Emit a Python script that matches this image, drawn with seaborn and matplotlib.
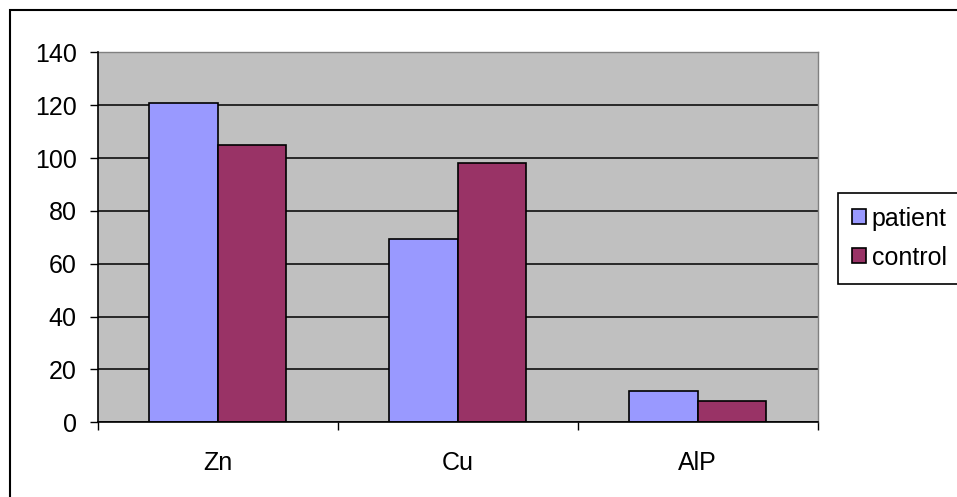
import pandas as pd
import seaborn as sns
import matplotlib.pyplot as plt
from matplotlib.patches import Rectangle

categories = ["Zn", "Cu", "AlP"]
patient = [121, 69.4, 12]
control = [105, 98.3, 8.2]
groups = ["patient", "control"]
colors = ["#9999FF", "#993366"]
yticks = [0, 20, 40, 60, 80, 100, 120, 140]

df = pd.DataFrame({
    "element": categories * 2,
    "value": patient + control,
    "group": [groups[0]] * 3 + [groups[1]] * 3,
})

sns.set_style("white")
plt.rcParams["font.family"] = ["Liberation Sans", "DejaVu Sans"]
plt.rcParams["text.color"] = "black"
plt.rcParams["xtick.color"] = "black"
plt.rcParams["ytick.color"] = "black"

fig = plt.figure(figsize=(9.57, 4.97), dpi=100)
ax = fig.add_axes([97.5 / 957, 1 - 422.3 / 497, (817.7 - 97.5) / 957, (422.3 - 52.3) / 497])
ax.set_facecolor("#C0C0C0")

sns.barplot(data=df, x="element", y="value", hue="group", palette=colors,
            width=0.571, gap=0, edgecolor="black", linewidth=1.2, saturation=1,
            ax=ax, zorder=3)

ax.set_ylim(0, 140)
ax.set_yticks(yticks)
ax.set_xlim(-0.5, 2.5)
ax.set_xticks([-0.5, 0.5, 1.5, 2.5])
ax.set_xticklabels([])
ax.set_xticks([0, 1, 2], minor=True)
ax.set_xticklabels(categories, minor=True)
ax.tick_params(axis="x", which="minor", length=0, pad=21, labelsize=18)
ax.tick_params(axis="x", which="major", direction="out", length=6, width=1, bottom=True)
ax.tick_params(axis="y", direction="out", length=6, width=1, left=True, pad=9, labelsize=18)
ax.grid(axis="y", color="black", linewidth=1.1, zorder=1)
ax.set_axisbelow(True)
ax.set_xlabel("")
ax.set_ylabel("")

for s in ["left", "bottom"]:
    ax.spines[s].set_color("black")
    ax.spines[s].set_linewidth(1.2)
    ax.spines[s].set_zorder(5)
for s in ["top", "right"]:
    ax.spines[s].set_color("#808080")
    ax.spines[s].set_linewidth(1)

ax.legend_.remove()
handles = [Rectangle((0, 0), 1, 1, facecolor=c, edgecolor="black", linewidth=1.2) for c in colors]
leg = fig.legend(handles, groups, loc="upper left",
                 bbox_to_anchor=(838 / 957, 1 - 277 / 497, 0.2, 84 / 497),
                 mode="expand", fontsize=18, frameon=True, fancybox=False,
                 framealpha=1, handlelength=0.55, handleheight=0.55, handletextpad=0.25,
                 labelspacing=0.6, borderpad=0.55, borderaxespad=0)
leg.get_frame().set_edgecolor("black")
leg.get_frame().set_linewidth(1.2)

fig.patches.append(Rectangle((10 / 957, -0.1), 1.2, 1.1 - 10 / 497,
                             transform=fig.transFigure, fill=False,
                             edgecolor="black", linewidth=1.5, figure=fig))

fig.savefig("out.png", dpi=100)
